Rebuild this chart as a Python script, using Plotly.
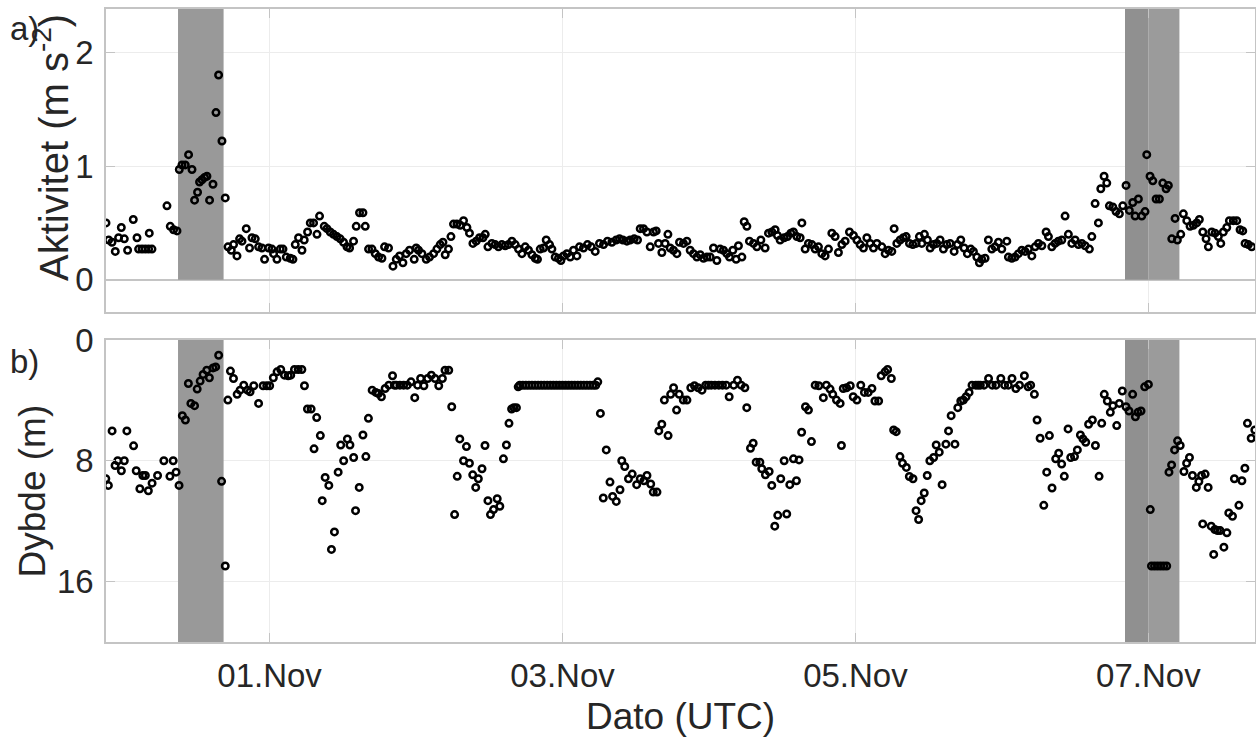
import pandas as pd
import plotly.graph_objects as go
from plotly.subplots import make_subplots

# ---------------- data (hours relative to 01.Nov 00:00 UTC) ----------------
act_hours = [
    -26.80, -26.37, -25.82, -25.28, -24.74, -24.29, -23.80, -23.26, -22.33, -21.72,
    -21.46, -20.90, -20.36, -19.82, -19.71, -19.27, -16.81, -16.27, -15.73, -15.17,
    -14.79, -14.35, -13.81, -13.27, -12.71, -12.29, -11.80, -11.47, -11.07, -10.65,
    -10.26, -9.83, -9.27, -8.78, -8.35, -7.80, -7.26, -6.81, -6.27, -5.90,
    -5.34, -4.91, -4.52, -3.82, -3.28, -2.88, -2.34, -1.80, -1.25, -0.82,
    -0.16, 0.39, 0.66, 1.21, 1.75, 2.20, 2.74, 3.39, 3.83, 4.21,
    4.75, 5.31, 5.68, 6.23, 6.67, 7.21, 7.77, 8.19, 8.96, 9.40,
    9.94, 10.48, 11.04, 11.58, 12.12, 12.68, 13.11, 13.76, 14.20, 14.74,
    15.30, 15.68, 16.22, 16.78, 17.32, 17.86, 18.41, 18.84, 19.49, 20.22,
    20.76, 21.30, 21.85, 22.39, 22.93, 23.70, 24.03, 24.41, 24.97, 25.67,
    26.21, 26.87, 27.42, 27.96, 28.41, 28.78, 29.32, 29.72, 30.14, 30.70,
    31.24, 31.78, 32.34, 32.76, 33.32, 33.86, 34.40, 34.96, 35.34, 35.78,
    36.43, 36.97, 37.51, 38.07, 38.61, 39.15, 39.71, 40.25, 40.79, 41.35,
    41.89, 42.43, 42.99, 43.53, 43.90, 44.35, 44.89, 45.33, 45.87, 46.26,
    46.80, 47.34, 47.74, 48.16, 48.72, 49.26, 49.80, 50.36, 50.78, 51.44,
    52.09, 52.70, 53.36, 54.06, 54.72, 55.37, 56.09, 56.80, 57.34, 57.89,
    58.55, 59.09, 59.75, 60.29, 60.73, 61.27, 61.83, 62.37, 62.91, 63.35,
    63.73, 64.28, 64.82, 65.27, 65.64, 66.18, 66.74, 67.17, 67.82, 68.38,
    68.92, 69.46, 70.02, 70.56, 71.10, 71.66, 72.20, 72.74, 73.29, 73.83,
    74.37, 74.93, 75.36, 75.91, 76.45, 76.83, 77.39, 77.77, 78.21, 78.63,
    79.29, 79.85, 80.50, 81.20, 81.75, 82.30, 82.84, 83.22, 83.66, 84.32,
    84.86, 85.41, 85.84, 86.40, 86.94, 87.22, 87.76, 88.30, 88.86, 89.40,
    89.94, 90.49, 91.03, 91.58, 92.13, 92.67, 93.21, 93.77, 94.31, 95.02,
    95.67, 96.23, 96.77, 97.31, 97.87, 98.41, 98.95, 99.51, 100.32, 100.87,
    101.41, 101.96, 102.34, 102.78, 103.32, 103.86, 104.31, 104.85, 105.40, 105.94,
    106.48, 106.87, 107.30, 107.79, 108.24, 108.78, 109.33, 109.87, 110.41, 110.97,
    111.51, 112.17, 112.71, 113.26, 113.80, 114.34, 114.90, 115.33, 115.89, 116.31,
    116.70, 117.24, 117.78, 118.34, 118.88, 119.43, 119.98, 120.80, 121.06, 121.62,
    122.16, 122.70, 123.26, 123.80, 124.34, 124.90, 125.44, 125.98, 126.54, 127.24,
    127.62, 128.17, 128.71, 129.25, 129.81, 130.35, 130.89, 131.45, 131.99, 132.53,
    133.09, 133.63, 134.33, 134.73, 135.27, 135.81, 136.20, 136.74, 137.18, 137.61,
    138.16, 138.70, 139.25, 139.80, 140.34, 140.88, 141.44, 141.82, 142.36, 142.91,
    143.45, 143.73, 144.27, 144.72, 145.26, 145.80, 146.36, 146.90, 147.27, 147.83,
    148.37, 148.75, 149.30, 149.73, 150.29, 150.83, 151.37, 151.92, 152.35, 152.91,
    153.45, 153.83, 154.38, 154.92, 155.46, 155.86, 156.28, 156.84, 157.27, 157.92,
    158.48, 159.02, 159.46, 159.84, 160.38, 160.93,
]
act_values = [
    0.50, 0.35, 0.33, 0.25, 0.37, 0.46, 0.36, 0.26, 0.53, 0.37,
    0.27, 0.27, 0.27, 0.27, 0.41, 0.27, 0.65, 0.47, 0.44, 0.43,
    0.97, 1.01, 1.01, 1.10, 0.97, 0.70, 0.77, 0.86, 0.88, 0.90,
    0.91, 0.70, 0.84, 1.47, 1.80, 1.22, 0.72, 0.29, 0.26, 0.31,
    0.21, 0.36, 0.34, 0.45, 0.28, 0.37, 0.36, 0.29, 0.28, 0.18,
    0.28, 0.27, 0.23, 0.18, 0.27, 0.27, 0.20, 0.19, 0.18, 0.31,
    0.37, 0.26, 0.35, 0.42, 0.50, 0.50, 0.40, 0.56, 0.47, 0.45,
    0.42, 0.40, 0.38, 0.36, 0.33, 0.29, 0.28, 0.34, 0.47, 0.59,
    0.59, 0.47, 0.27, 0.27, 0.23, 0.20, 0.19, 0.29, 0.28, 0.12,
    0.18, 0.21, 0.15, 0.23, 0.26, 0.18, 0.28, 0.26, 0.23, 0.18,
    0.20, 0.23, 0.27, 0.31, 0.33, 0.22, 0.27, 0.38, 0.49, 0.49,
    0.48, 0.52, 0.46, 0.41, 0.32, 0.34, 0.37, 0.37, 0.40, 0.29,
    0.32, 0.31, 0.29, 0.31, 0.30, 0.31, 0.34, 0.31, 0.27, 0.23,
    0.29, 0.26, 0.22, 0.19, 0.18, 0.27, 0.28, 0.35, 0.31, 0.27,
    0.20, 0.19, 0.17, 0.21, 0.23, 0.20, 0.26, 0.21, 0.29, 0.28,
    0.31, 0.29, 0.25, 0.32, 0.31, 0.34, 0.33, 0.35, 0.36, 0.35,
    0.34, 0.35, 0.36, 0.35, 0.45, 0.45, 0.42, 0.29, 0.42, 0.43,
    0.32, 0.24, 0.32, 0.40, 0.28, 0.26, 0.23, 0.33, 0.32, 0.34,
    0.26, 0.23, 0.20, 0.22, 0.19, 0.20, 0.20, 0.28, 0.17, 0.27,
    0.26, 0.23, 0.20, 0.26, 0.18, 0.30, 0.20, 0.51, 0.47, 0.34,
    0.32, 0.29, 0.35, 0.28, 0.41, 0.42, 0.44, 0.39, 0.35, 0.37,
    0.38, 0.41, 0.42, 0.38, 0.37, 0.50, 0.27, 0.32, 0.31, 0.27,
    0.29, 0.23, 0.21, 0.27, 0.41, 0.38, 0.24, 0.31, 0.34, 0.42,
    0.39, 0.35, 0.31, 0.28, 0.37, 0.32, 0.28, 0.32, 0.29, 0.23,
    0.26, 0.25, 0.45, 0.32, 0.35, 0.37, 0.38, 0.32, 0.31, 0.32,
    0.38, 0.32, 0.40, 0.35, 0.28, 0.31, 0.32, 0.35, 0.27, 0.31,
    0.32, 0.25, 0.31, 0.35, 0.28, 0.23, 0.27, 0.25, 0.20, 0.15,
    0.18, 0.19, 0.35, 0.27, 0.29, 0.33, 0.27, 0.34, 0.20, 0.19,
    0.20, 0.23, 0.26, 0.25, 0.27, 0.21, 0.29, 0.32, 0.30, 0.42,
    0.38, 0.29, 0.32, 0.34, 0.35, 0.56, 0.40, 0.32, 0.35, 0.31,
    0.32, 0.30, 0.27, 0.38, 0.67, 0.50, 0.80, 0.91, 0.85, 0.65,
    0.64, 0.60, 0.58, 0.65, 0.83, 0.61, 0.68, 0.56, 0.71, 0.56,
    0.60, 1.10, 0.91, 0.87, 0.71, 0.71, 0.85, 0.80, 0.83, 0.36,
    0.54, 0.35, 0.40, 0.58, 0.52, 0.47, 0.48, 0.50, 0.53, 0.42,
    0.36, 0.29, 0.42, 0.41, 0.38, 0.32, 0.42, 0.46, 0.52, 0.52,
    0.52, 0.44, 0.43, 0.32, 0.31, 0.29,
]

depth_hours = [
    -26.83, -26.41, -25.80, -25.31, -24.88, -24.28, -23.80, -23.38, -22.28, -21.85,
    -21.25, -20.77, -20.35, -19.86, -19.25, -18.35, -17.32, -16.33, -15.79, -15.32,
    -14.83, -14.29, -13.79, -13.30, -12.89, -12.29, -11.86, -11.37, -10.89, -10.29,
    -9.86, -9.26, -8.83, -8.34, -7.86, -7.26, -6.83, -6.41, -5.91, -5.31,
    -4.83, -4.23, -3.62, -3.19, -2.59, -1.80, -1.06, -0.46, 0.02, 0.62,
    1.23, 1.83, 2.44, 3.05, 3.47, 4.08, 4.69, 5.29, 5.72, 6.21,
    6.81, 7.29, 7.72, 8.32, 8.63, 9.11, 9.71, 10.14, 10.63, 11.24,
    11.66, 12.14, 12.75, 13.17, 13.78, 14.09, 14.69, 15.30, 15.78, 16.20,
    16.81, 17.41, 17.84, 18.33, 18.94, 19.54, 20.15, 20.45, 20.76, 21.36,
    21.97, 22.57, 23.18, 23.79, 24.26, 24.75, 25.29, 25.90, 26.51, 27.11,
    27.72, 28.32, 28.75, 29.36, 29.85, 30.32, 30.75, 31.17, 31.78, 32.26,
    32.75, 33.29, 33.78, 34.21, 34.81, 35.30, 35.78, 36.20, 36.70, 37.30,
    37.73, 38.32, 38.81, 39.23, 39.66, 40.02, 40.45, 40.74, 41.00, 41.50,
    42.00, 42.50, 43.00, 43.50, 44.00, 44.50, 45.00, 45.50, 46.00, 46.50,
    47.00, 47.50, 48.00, 48.50, 49.00, 49.50, 50.00, 50.50, 51.00, 51.50,
    52.00, 52.50, 53.00, 53.45, 53.78, 54.21, 54.68, 55.17, 55.78, 56.21,
    56.81, 57.42, 57.71, 58.20, 58.81, 59.42, 60.15, 60.74, 61.35, 61.84,
    62.45, 62.87, 63.48, 63.78, 64.27, 64.69, 65.30, 65.72, 66.20, 66.69,
    67.12, 67.79, 68.39, 69.02, 69.62, 70.23, 70.85, 71.46, 71.92, 72.38,
    72.98, 73.61, 74.21, 74.83, 75.31, 76.05, 76.67, 77.27, 77.88, 78.19,
    78.80, 79.24, 79.73, 80.34, 80.65, 81.25, 81.86, 82.29, 82.78, 83.27,
    83.76, 84.32, 84.74, 85.24, 85.84, 86.33, 86.76, 87.18, 87.81, 88.30,
    88.79, 89.40, 90.00, 90.74, 91.23, 91.84, 92.28, 92.89, 93.49, 93.70,
    94.00, 94.54, 95.15, 95.63, 96.24, 96.87, 97.47, 98.09, 98.70, 99.19,
    99.80, 100.22, 100.85, 101.27, 101.88, 102.26, 102.68, 103.29, 103.71, 104.34,
    104.83, 105.43, 105.93, 106.35, 106.77, 107.27, 107.76, 108.19, 108.81, 109.23,
    109.73, 110.20, 110.82, 111.25, 111.68, 112.30, 112.77, 113.26, 113.69, 114.13,
    114.62, 115.10, 115.72, 116.10, 116.46, 117.07, 117.81, 118.41, 119.03, 119.82,
    120.44, 121.05, 121.65, 122.28, 122.88, 123.68, 124.29, 124.71, 125.32, 125.76,
    126.26, 126.86, 127.34, 127.78, 128.21, 128.81, 129.30, 129.79, 130.22, 130.84,
    131.27, 131.89, 132.36, 132.86, 133.28, 133.73, 134.20, 134.82, 135.32, 135.92,
    136.35, 136.77, 137.27, 137.76, 138.18, 138.81, 139.23, 139.72, 140.33, 140.82,
    141.42, 141.87, 142.29, 142.79, 143.39, 144.00, 144.31, 144.50, 145.00, 145.50,
    146.00, 146.50, 147.00, 147.37, 147.80, 148.29, 148.78, 149.21, 149.82, 150.26,
    150.73, 151.22, 151.85, 152.27, 152.70, 152.90, 153.30, 153.79, 154.29, 154.70,
    154.89, 155.33, 155.76, 156.37, 156.86, 157.17, 157.78, 158.09, 158.83, 159.32,
    159.81, 160.23, 160.84, 161.44,
]
depth_values = [
    9.19, 9.63, 6.02, 8.31, 8.00, 8.66, 8.00, 6.02, 7.01, 8.66,
    9.85, 8.97, 8.97, 9.98, 9.48, 8.97, 8.00, 9.03, 8.00, 8.75,
    9.63, 5.01, 5.30, 2.88, 4.20, 4.35, 3.25, 2.72, 2.28, 2.00,
    2.50, 1.85, 1.78, 1.01, 9.36, 14.97, 3.98, 2.06, 2.55, 3.60,
    3.32, 2.99, 3.32, 3.43, 3.03, 4.20, 3.03, 3.03, 3.03, 2.50,
    2.11, 1.95, 2.33, 2.37, 2.33, 1.95, 1.95, 1.95, 3.03, 4.57,
    4.57, 7.21, 5.14, 6.33, 10.64, 9.10, 9.63, 13.87, 12.71, 8.75,
    6.95, 8.00, 6.55, 6.95, 7.78, 11.30, 9.76, 6.29, 7.72, 5.19,
    3.32, 3.47, 3.54, 3.76, 3.21, 2.99, 2.37, 2.99, 2.99, 2.99,
    2.99, 2.99, 2.77, 3.82, 2.99, 2.55, 3.03, 2.55, 2.33, 2.55,
    3.03, 2.55, 2.00, 2.00, 4.42, 11.56, 9.03, 6.55, 8.00, 7.06,
    8.16, 8.93, 9.76, 9.19, 8.53, 6.99, 10.64, 11.56, 11.23, 10.51,
    11.01, 7.87, 6.95, 5.52, 4.57, 4.48, 4.48, 3.10, 3.00, 3.00,
    3.00, 3.00, 3.00, 3.00, 3.00, 3.00, 3.00, 3.00, 3.00, 3.00,
    3.00, 3.00, 3.00, 3.00, 3.00, 3.00, 3.00, 3.00, 3.00, 3.00,
    3.00, 3.00, 3.00, 3.00, 2.77, 4.86, 10.46, 7.28, 9.41, 10.36,
    10.69, 9.92, 8.00, 8.38, 9.19, 8.88, 9.58, 9.19, 9.32, 8.97,
    9.54, 10.07, 10.07, 6.02, 5.58, 3.98, 6.33, 3.60, 3.16, 4.64,
    3.60, 3.98, 3.98, 3.16, 3.03, 3.16, 3.32, 2.99, 2.99, 2.99,
    2.99, 2.99, 2.99, 2.99, 3.76, 2.99, 2.66, 2.99, 3.16, 4.48,
    7.17, 6.84, 8.09, 8.09, 8.53, 8.93, 8.71, 9.63, 12.33, 11.61,
    9.19, 8.00, 11.52, 9.58, 7.87, 9.32, 7.94, 6.11, 4.42, 4.64,
    6.73, 2.99, 3.03, 3.82, 2.99, 3.25, 3.60, 3.98, 4.20, 6.99,
    3.21, 3.16, 3.03, 3.76, 3.98, 2.99, 3.47, 3.47, 3.21, 4.04,
    4.04, 2.37, 2.11, 1.95, 2.55, 5.96, 6.07, 7.72, 8.16, 8.44,
    9.04, 9.19, 11.30, 11.89, 10.64, 10.13, 8.97, 8.00, 7.78, 6.95,
    7.43, 9.58, 6.90, 6.02, 5.01, 6.90, 4.48, 4.04, 3.98, 3.76,
    3.47, 2.99, 2.99, 2.99, 2.99, 2.99, 2.55, 2.99, 2.99, 2.55,
    2.99, 2.99, 2.55, 3.21, 2.99, 2.37, 3.10, 2.99, 3.60, 5.30,
    6.51, 10.95, 8.75, 6.33, 9.80, 7.87, 7.50, 8.22, 9.03, 5.89,
    7.78, 7.72, 7.28, 6.29, 6.55, 6.77, 5.58, 5.30, 6.99, 9.03,
    5.52, 3.60, 4.04, 4.79, 4.35, 5.67, 4.20, 3.38, 4.42, 4.70,
    3.60, 5.08, 4.79, 4.70, 3.10, 2.94, 11.23, 14.97, 14.97, 14.97,
    14.97, 14.97, 14.97, 8.75, 8.27, 7.28, 6.68, 6.99, 8.71, 8.16,
    7.78, 8.97, 9.76, 9.37, 8.97, 12.18, 8.88, 9.76, 12.33, 14.20,
    12.55, 12.62, 12.62, 13.72, 12.77, 11.45, 11.67, 9.19, 10.95, 9.32,
    8.49, 5.52, 6.51, 5.96,
]

# shaded periods (start, end) in UTC
shade_periods = [
    ("2019-10-31 09:00", "2019-10-31 16:28", "#999999"),
    ("2019-11-06 20:10", "2019-11-07 00:00", "#909090"),
    ("2019-11-07 00:00", "2019-11-07 05:05", "#9b9b9b"),
]

x_ticks = ["2019-11-01", "2019-11-03", "2019-11-05", "2019-11-07"]
x_range = ["2019-10-30 21:12", "2019-11-07 17:28"]
act_ticks = [0, 1, 2]
depth_ticks = [0, 8, 16]

base = pd.Timestamp("2019-11-01 00:00")
act_t = base + pd.to_timedelta(act_hours, unit="h")
depth_t = base + pd.to_timedelta(depth_hours, unit="h")

TXT = "#262626"
FRAME = "#c4c4c4"
GRID = "#ececec"
FONT = "Liberation Sans, Arial, Helvetica, sans-serif"

FIG_W, FIG_H = 1256, 740
L, T, B, R = 106, 9, 98, 1
PLOT_H = FIG_H - T - B

fig = make_subplots(rows=2, cols=1, shared_xaxes=True, vertical_spacing=0.0)

marker = dict(symbol="circle-open", size=6.5, color="black", line=dict(width=2.5, color="black"))
fig.add_trace(go.Scatter(x=act_t, y=act_values, mode="markers", marker=marker,
                         showlegend=False, hoverinfo="skip"), row=1, col=1)
fig.add_trace(go.Scatter(x=depth_t, y=depth_values, mode="markers", marker=marker,
                         showlegend=False, hoverinfo="skip"), row=2, col=1)

act_range = [-0.28, 2.38]
depth_range = [20, 0]

for s, e, c in shade_periods:
    fig.add_shape(type="rect", xref="x", yref="y", x0=s, x1=e, y0=0, y1=act_range[1],
                  fillcolor=c, line=dict(width=0), layer="between")
    fig.add_shape(type="rect", xref="x2", yref="y2", x0=s, x1=e, y0=0, y1=depth_range[0],
                  fillcolor=c, line=dict(width=0), layer="between")

axis_common = dict(showline=True, linecolor=FRAME, linewidth=1.5, mirror="ticks",
                   ticks="inside", ticklen=9, tickwidth=1.2, tickcolor=FRAME,
                   showgrid=True, gridcolor=GRID, gridwidth=1, automargin=False,
                   tickfont=dict(family=FONT, size=33, color=TXT))

fig.update_xaxes(**axis_common, type="date", range=x_range, tickvals=x_ticks,
                 tickformat="%d.%b", zeroline=False)
fig.update_xaxes(showticklabels=False, row=1, col=1)
fig.update_xaxes(ticklabelstandoff=4, row=2, col=1)
fig.update_yaxes(**axis_common)
fig.update_yaxes(range=act_range, tickvals=act_ticks, zeroline=True,
                 zerolinecolor=FRAME, zerolinewidth=1.5, ticklabelstandoff=4,
                 row=1, col=1)
fig.update_yaxes(range=depth_range, tickvals=depth_ticks, zeroline=False,
                 ticklabelstandoff=4, row=2, col=1)


def px_x(p):
    return (p - L) / (FIG_W - L - R)


def px_y(p):
    return (T + PLOT_H - p) / PLOT_H


fig.update_layout(
    width=FIG_W, height=FIG_H,
    margin=dict(l=L, r=R, t=T, b=B, autoexpand=False),
    plot_bgcolor="white", paper_bgcolor="white",
    font=dict(family=FONT, color=TXT),
    yaxis=dict(domain=[px_y(311.7), 1.0]),
    yaxis2=dict(domain=[0.0, px_y(340)]),
)

ann = [
    dict(text="a)", x=px_x(8), y=px_y(28), xanchor="left", yanchor="middle", size=33, angle=0),
    dict(text="b)", x=px_x(8), y=px_y(362), xanchor="left", yanchor="middle", size=33, angle=0),
    dict(text="Aktivitet (m s<sup>-2</sup>)", x=px_x(78), y=px_y(148), xanchor="right",
         yanchor="middle", size=40, angle=-90),
    dict(text="Dybde (m)", x=px_x(55), y=px_y(491), xanchor="right", yanchor="middle",
         size=37, angle=-90),
    dict(text="Dato (UTC)", x=0.5, y=px_y(716), xanchor="center", yanchor="middle",
         size=37, angle=0),
]
for a in ann:
    fig.add_annotation(text=a["text"], xref="paper", yref="paper", x=a["x"], y=a["y"],
                       xanchor=a["xanchor"], yanchor=a["yanchor"], textangle=a["angle"],
                       showarrow=False, font=dict(family=FONT, size=a["size"], color=TXT))

# remove the browser's default 8 px page margin so the figure fills the window exactly
fig.write_html("out.html", config={"displayModeBar": False},
               post_script="document.body.style.margin='0px';document.body.style.overflow='hidden';")
